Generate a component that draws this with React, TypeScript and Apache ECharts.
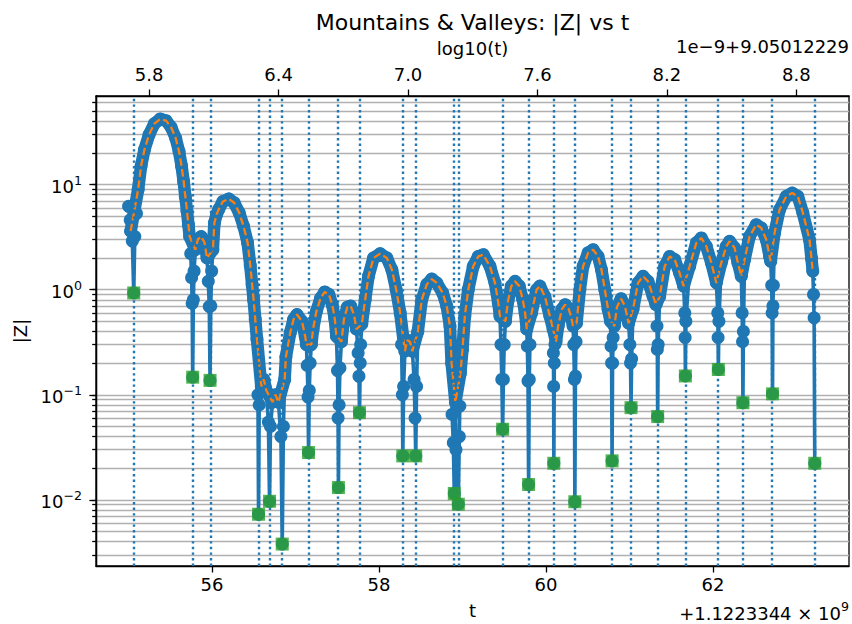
import React, { useEffect, useRef } from 'react';
import * as echarts from 'echarts';

// ---- data (t is offset from 1.1223344e9) ----
const zeroT = [55.062, 55.768, 55.976, 56.557, 56.689, 56.841, 57.156, 57.514, 57.766, 58.285, 58.44, 58.902, 58.95, 59.481, 59.792, 60.094, 60.346, 60.792, 61.019, 61.338, 61.67, 62.065, 62.359, 62.714, 63.22];
const zeroZ = [0.93, 0.147, 0.137, 0.0073, 0.0097, 0.0038, 0.0282, 0.0131, 0.0676, 0.0262, 0.0262, 0.0115, 0.0091, 0.047, 0.014, 0.0223, 0.0096, 0.0235, 0.0754, 0.062, 0.151, 0.174, 0.084, 0.102, 0.0223];

const archT = [
  55.025, 55.115, 55.15, 55.19, 55.245, 55.31, 55.38, 55.45, 55.51, 55.565, 55.605, 55.635, 55.66, 55.68, 55.7, 55.717, 55.732,
  55.8, 55.83, 55.87, 55.91, 55.94,
  56.01, 56.028, 56.055, 56.08, 56.13, 56.2, 56.265, 56.325, 56.378, 56.426, 56.458, 56.48, 56.498, 56.518, 56.538,
  56.59, 56.62, 56.65, 56.725, 56.76, 56.795,
  56.87, 56.885, 56.937, 56.976, 57.017, 57.077, 57.116, 57.13,
  57.19, 57.21, 57.25, 57.3, 57.35, 57.4, 57.44, 57.47, 57.49,
  57.55, 57.58, 57.62, 57.66, 57.7, 57.73,
  57.794, 57.834, 57.874, 57.934, 58.014, 58.094, 58.154, 58.206, 58.254,
  58.31, 58.34, 58.37, 58.4,
  58.465, 58.512, 58.572, 58.632, 58.691, 58.763, 58.811, 58.85, 58.87, 58.915,
  58.975, 59.0, 59.028, 59.069, 59.129, 59.189, 59.249, 59.329, 59.389, 59.429, 59.449,
  59.515, 59.545, 59.585, 59.63, 59.68, 59.72, 59.75, 59.77,
  59.828, 59.888, 59.927, 59.987, 60.047, 60.086,
  60.12, 60.146, 60.19, 60.23, 60.27, 60.3, 60.325,
  60.366, 60.406, 60.445, 60.505, 60.565, 60.624, 60.665, 60.705, 60.744, 60.773,
  60.82, 60.85, 60.9, 60.945, 60.99,
  61.043, 61.103, 61.163, 61.222, 61.282, 61.318,
  61.362, 61.422, 61.482, 61.542, 61.601, 61.649,
  61.721, 61.801, 61.861, 61.921, 61.981, 62.041,
  62.1, 62.16, 62.199, 62.259, 62.299, 62.34,
  62.379, 62.439, 62.519, 62.579, 62.639, 62.679, 62.692,
  62.738, 62.798, 62.878, 62.95, 63.017, 63.077, 63.157, 63.18, 63.196,
];
const archZ = [
  3.6, 9.0, 15.0, 21.4, 29.7, 38.0, 42.0, 40.5, 35.0, 27.6, 20.6, 15.0, 10.7, 7.7, 5.6, 4.15, 3.2,
  2.4, 3.0, 3.2, 2.8, 2.0,
  2.4, 4.3, 5.2, 5.8, 6.9, 7.3, 6.7, 5.4, 4.0, 2.8, 1.7, 1.12, 0.8, 0.52, 0.34,
  0.12, 0.14, 0.11, 0.085, 0.1, 0.085,
  0.14, 0.23, 0.39, 0.52, 0.58, 0.5, 0.36, 0.3,
  0.3, 0.42, 0.62, 0.83, 0.95, 0.9, 0.72, 0.53, 0.36,
  0.32, 0.52, 0.68, 0.7, 0.58, 0.42,
  0.47, 0.8, 1.34, 2.0, 2.2, 2.0, 1.55, 1.0, 0.6,
  0.26, 0.33, 0.32, 0.26,
  0.4, 0.8, 1.12, 1.26, 1.16, 0.93, 0.7, 0.45, 0.2, 0.085,
  0.16, 0.27, 0.56, 1.0, 1.67, 2.07, 2.15, 1.67, 1.16, 0.75, 0.56,
  0.5, 0.78, 1.08, 1.2, 1.08, 0.82, 0.6, 0.42,
  0.6, 1.0, 1.08, 0.86, 0.56, 0.42,
  0.32, 0.45, 0.65, 0.72, 0.66, 0.56, 0.45,
  0.48, 1.0, 1.67, 2.24, 2.4, 2.07, 1.55, 1.0, 0.65, 0.5,
  0.45, 0.68, 0.82, 0.7, 0.48,
  0.65, 1.16, 1.34, 1.2, 0.87, 0.72,
  0.86, 1.67, 2.07, 1.93, 1.44, 1.08,
  1.67, 2.78, 3.1, 2.58, 1.8, 1.16,
  1.8, 2.58, 2.88, 2.5, 1.8, 1.34,
  1.93, 3.21, 4.15, 3.86, 2.99, 2.07, 1.86,
  3.46, 5.76, 7.7, 8.3, 7.7, 5.4, 2.99, 2.0, 1.5,
];

const dipT = [
  55.0, 55.02, 55.045, 55.075, 55.095,
  55.745, 55.755, 55.762, 55.776, 55.785, 55.955, 55.967, 55.985, 55.995,
  56.55, 56.565, 56.675, 56.7, 56.825, 56.855,
  57.14, 57.15, 57.165, 57.175, 57.503, 57.51, 57.522, 57.532,
  57.75, 57.76, 57.775, 57.78,
  58.27, 58.28, 58.295, 58.42, 58.432, 58.45,
  58.875, 58.89, 58.922, 58.962, 58.968,
  59.461, 59.471, 59.49, 59.5, 59.777, 59.785, 59.8, 59.808,
  60.089, 60.092, 60.1, 60.108, 60.333, 60.341, 60.353, 60.36,
  60.78, 60.786, 60.798, 60.805, 61.005, 61.013, 61.026,
  61.33, 61.334, 61.344, 61.663, 61.667, 61.676,
  62.058, 62.062, 62.072, 62.35, 62.355, 62.365,
  62.704, 62.709, 62.719, 62.724, 63.205, 63.212,
];
const dipZ = [
  6.2, 4.6, 2.9, 3.2, 5.3,
  2.2, 1.3, 0.74, 0.8, 1.5, 1.2, 0.69, 0.7, 1.5,
  0.1, 0.08, 0.055, 0.05, 0.04, 0.05,
  0.19, 0.095, 0.11, 0.2, 0.17, 0.06, 0.08, 0.18,
  0.25, 0.15, 0.2, 0.3,
  0.3, 0.1, 0.12, 0.14, 0.06, 0.12,
  0.065, 0.035, 0.03, 0.04, 0.078,
  0.3, 0.14, 0.14, 0.3, 0.29, 0.135, 0.14, 0.3,
  0.25, 0.12, 0.2, 0.3, 0.3, 0.14, 0.15, 0.32,
  0.29, 0.2, 0.2, 0.35, 0.3, 0.2, 0.22,
  0.45, 0.27, 0.3, 0.6, 0.35, 0.5,
  0.6, 0.35, 0.5, 0.6, 0.32, 0.4,
  1.1, 0.6, 0.7, 1.1, 0.9, 0.54,
];

const bottomTicks = [56, 58, 60, 62];
const topTickLabels = ['5.8', '6.4', '7.0', '7.6', '8.2', '8.8'];
const yMajorTicks = [0.01, 0.1, 1, 10];
const T_OFFSET = 1122334400;
const LOG_OFFSET = 9.05012229;

const FONT = 'DejaVu Sans';
const BLUE = '#1f77b4';
const ORANGE = '#ff7f0e';
const GREEN = '#2ca02c';
const X_MIN = 54.61;
const X_MAX = 63.63;
const Y_MIN = 0.00235;
const Y_MAX = 69.5;

export default function App() {
  const ref = useRef<HTMLDivElement>(null);
  useEffect(() => {
    const chart = echarts.init(ref.current!, null, { renderer: 'svg' });

    const archData = archT.map((t, i) => [t, archZ[i]]);
    const dipData = dipT.map((t, i) => [t, dipZ[i]]);
    const zeroData = zeroT.map((t, i) => [t, zeroZ[i]]);
    const blueData = [...archData, ...dipData, ...zeroData].sort((a, b) => a[0] - b[0]);

    const topTickT = topTickLabels.map((s) => Math.pow(10, LOG_OFFSET + parseFloat(s) * 1e-9) - T_OFFSET);

    const yAllTicks: number[] = [];
    for (let e = -3; e <= 1; e++) {
      for (let m = 1; m <= 9; m++) {
        const v = m * Math.pow(10, e);
        if (v >= Y_MIN && v <= Y_MAX) yAllTicks.push(v);
      }
    }

    const tickLine = { color: '#000', width: 1.3 };
    const labelBase = { fontFamily: FONT, color: '#000', fontSize: 18 };

    const option: any = {
      animation: false,
      backgroundColor: '#fff',
      grid: { left: 96, right: 3, top: 96, bottom: 57, show: true, borderColor: '#000', borderWidth: 1.3, backgroundColor: 'transparent' },
      xAxis: [
        {
          type: 'value', position: 'bottom', min: X_MIN, max: X_MAX,
          axisLine: { show: true, onZero: false, lineStyle: tickLine },
          axisTick: { show: true, customValues: bottomTicks, length: 6.5, lineStyle: tickLine },
          axisLabel: { customValues: bottomTicks, margin: 9, ...labelBase },
          splitLine: { show: false },
          name: 't', nameLocation: 'middle', nameGap: 35, nameTextStyle: { ...labelBase },
        },
        {
          type: 'value', position: 'top', min: X_MIN, max: X_MAX,
          axisLine: { show: true, onZero: false, lineStyle: tickLine },
          axisTick: { show: true, customValues: topTickT, length: 6.5, lineStyle: tickLine },
          axisLabel: {
            customValues: topTickT, margin: 13, ...labelBase,
            formatter: (v: number) => {
              let best = 0;
              for (let i = 0; i < topTickT.length; i++) if (Math.abs(topTickT[i] - v) < Math.abs(topTickT[best] - v)) best = i;
              return topTickLabels[best];
            },
          },
          splitLine: { show: false },
          name: 'log10(t)', nameLocation: 'middle', nameGap: 39, nameTextStyle: { ...labelBase },
        },
      ],
      yAxis: [
        {
          type: 'log', logBase: 10, position: 'left', min: Y_MIN, max: Y_MAX,
          axisLine: { show: true, onZero: false, lineStyle: tickLine },
          axisTick: { show: true, customValues: yAllTicks, length: 3.8, lineStyle: tickLine },
          axisLabel: { show: false },
          splitLine: { show: true, lineStyle: { color: '#b0b0b0', width: 1.3 } },
        },
        {
          type: 'log', logBase: 10, position: 'left', min: Y_MIN, max: Y_MAX,
          axisLine: { show: true, onZero: false, lineStyle: tickLine },
          axisTick: { show: true, customValues: yMajorTicks, length: 6.6, lineStyle: tickLine },
          axisLabel: {
            customValues: yMajorTicks, margin: 14,
            formatter: (v: number) => {
              const e = Math.round(Math.log10(v));
              return `{b|10}{e|${e < 0 ? '\u2212' + -e : e}}`;
            },
            rich: {
              b: { fontFamily: FONT, color: '#000', fontSize: 18, lineHeight: 22, verticalAlign: 'bottom' },
              e: { fontFamily: FONT, color: '#000', fontSize: 12.6, lineHeight: 14, verticalAlign: 'top' },
            },
          },
          splitLine: { show: false },
          name: '|Z|', nameLocation: 'middle', nameGap: 63, nameRotate: 90, nameTextStyle: { ...labelBase },
        },
      ],
      graphic: [
        { type: 'text', x: 472.5, y: 22, style: { text: 'Mountains & Valleys: |Z| vs t', font: `22px "${FONT}"`, fill: '#000', textAlign: 'center', textVerticalAlign: 'middle' } },
        { type: 'text', x: 849, y: 46, style: { text: '1e\u22129+9.05012229', font: `18px "${FONT}"`, fill: '#000', textAlign: 'right', textVerticalAlign: 'middle' } },
        {
          type: 'text', x: 849, y: 611,
          style: {
            text: '{b|+1.1223344 \u00d7 10}{e|9}', textAlign: 'right', textVerticalAlign: 'middle',
            rich: {
              b: { fontFamily: FONT, fill: '#000', fontSize: 18, lineHeight: 22, verticalAlign: 'bottom' },
              e: { fontFamily: FONT, fill: '#000', fontSize: 12.6, lineHeight: 14, verticalAlign: 'top' },
            },
          },
        },
      ],
      series: [
        {
          type: 'scatter', data: zeroData, symbolSize: 0, z: 1, silent: true,
          markLine: {
            silent: true, symbol: ['none', 'none'], label: { show: false },
            lineStyle: { color: BLUE, width: 2.4, type: [2.4, 3.2] },
            data: zeroT.map((t) => ({ xAxis: t })),
          },
        },
        {
          type: 'line', data: archData, showSymbol: false, z: 2, silent: true,
          lineStyle: { color: BLUE, width: 12.5, cap: 'round', join: 'round' },
        },
        {
          type: 'line', data: blueData, z: 3, silent: true,
          symbol: 'circle', symbolSize: 13, showSymbol: true, showAllSymbol: true,
          itemStyle: { color: BLUE },
          lineStyle: { color: BLUE, width: 3.6, join: 'round' },
        },
        {
          type: 'line', data: archData, showSymbol: false, z: 4, silent: true,
          lineStyle: { color: ORANGE, width: 2.3, type: [7.5, 3.5] },
        },
        {
          type: 'scatter', data: zeroData, symbol: 'rect', symbolSize: 13, z: 5, silent: true,
          itemStyle: { color: GREEN },
        },
      ],
    };

    chart.setOption(option);
    return () => chart.dispose();
  }, []);

  return <div ref={ref} style={{ position: 'fixed', left: 0, top: 0, width: 852, height: 624 }} />;
}
